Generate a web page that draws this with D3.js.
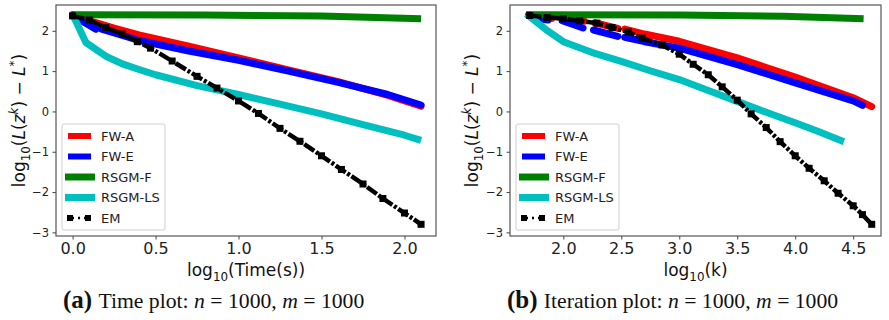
<!DOCTYPE html>
<html>
<head>
<meta charset="utf-8">
<script src="https://cdn.jsdelivr.net/npm/d3@7"></script>
<style>
body { margin: 0; background: #fff; }
svg { display: block; font-family: "DejaVu Sans", sans-serif; }
</style>
</head>
<body>
<div id="chart"></div>
<script>
// legend names, same order as the series are drawn
var seriesNames = ["FW-A", "FW-E", "RSGM-F", "RSGM-LS", "EM"];
var seriesColors = ["#ff0000", "#0000ff", "#008000", "#00bfbf", "#000000"];

var yTickValues = [-3, -2, -1, 0, 1, 2];
var timeTickValues = [0, 0.5, 1, 1.5, 2];
var iterTickValues = [2, 2.5, 3, 3.5, 4, 4.5];

// (a) time plot : [log10(time), log10(L(z^k) - L*)], null = gap
var timeFWA = [[0.0, 2.40], [0.06, 2.32], [0.12, 2.23], [0.25, 2.07], [0.4, 1.90], [0.7, 1.62],
	[1.0, 1.33], [1.3, 1.03], [1.6, 0.74], [1.9, 0.40], [2.1, 0.13]];
var timeFWE = [[0.0, 2.38], [0.14, 2.04], null, [0.17, 2.05], [0.4, 1.76], [0.7, 1.50],
	[1.0, 1.27], [1.3, 1.00], [1.6, 0.72], [1.9, 0.42], [2.1, 0.16]];
var timeRSGMF = [[0.0, 2.40], [0.8, 2.39], [1.5, 2.37], [2.1, 2.30]];
var timeRSGMLS = [[0.0, 2.41], [0.08, 1.71], [0.2, 1.37], [0.3, 1.18], [0.4, 1.04], [0.5, 0.91],
	[0.75, 0.64], [1.0, 0.42], [1.25, 0.18], [1.5, -0.06], [1.75, -0.33], [2.0, -0.59], [2.1, -0.72]];
var timeEM = [[0.0, 2.37], [0.1, 2.27], [0.2, 2.08], [0.3, 1.92], [0.39, 1.73], [0.47, 1.57],
	[0.6, 1.25], [0.75, 0.87], [0.87, 0.58], [1.0, 0.26], [1.12, -0.05], [1.25, -0.42],
	[1.37, -0.74], [1.5, -1.10], [1.62, -1.44], [1.75, -1.80], [1.87, -2.16], [2.0, -2.52], [2.1, -2.80]];

// (b) iteration plot : [log10(k), log10(L(z^k) - L*)]
var iterFWA = [[1.70, 2.40], [1.76, 2.36], null, [1.84, 2.34], [1.90, 2.31], null,
	[2.00, 2.32], [2.18, 2.24], null, [2.27, 2.20], [2.47, 2.06], null,
	[2.53, 2.04], [2.7, 1.92], [3.0, 1.74], [3.5, 1.33], [4.0, 0.85], [4.5, 0.34], [4.66, 0.12]];
var iterFWE = [[1.70, 2.38], [1.75, 2.33], null, [1.77, 2.30], [1.87, 2.27], null,
	[1.99, 2.25], [2.17, 2.07], null, [2.26, 2.02], [2.47, 1.86], null,
	[2.53, 1.84], [2.7, 1.73], [3.0, 1.57], [3.5, 1.16], [4.0, 0.71], [4.5, 0.26], [4.58, 0.15]];
var iterRSGMF = [[1.68, 2.40], [3.0, 2.39], [3.9, 2.36], [4.59, 2.30]];
var iterRSGMLS = [[1.68, 2.42], [1.85, 2.03], [2.0, 1.73], [2.25, 1.46], [2.5, 1.24], [2.75, 1.01],
	[3.0, 0.79], [3.25, 0.52], [3.5, 0.25], [3.75, -0.02], [4.0, -0.28], [4.2, -0.50], [4.42, -0.75]];
var iterEM = [[1.71, 2.38], [1.86, 2.33], [2.0, 2.30], [2.14, 2.25], [2.29, 2.19], [2.42, 2.08],
	[2.56, 1.97], [2.68, 1.82], [2.85, 1.65], [3.0, 1.42], [3.12, 1.17], [3.25, 0.91], [3.37, 0.61],
	[3.5, 0.28], [3.62, -0.06], [3.75, -0.40], [3.87, -0.75], [4.0, -1.10], [4.12, -1.41],
	[4.25, -1.72], [4.37, -2.03], [4.5, -2.34], [4.58, -2.56], [4.66, -2.80]];

var width = 889, height = 320;
var plotTop = 5, plotBottom = 236;

var panels = [
	{ id: "a", left: 56, right: 436, xDomain: [-0.1, 2.19], xTicks: timeTickValues,
	  xName: "(Time(s))", ylabX: 25, capX: 63, capTitle: "Time plot: ",
	  series: [timeFWA, timeFWE, timeRSGMF, timeRSGMLS, timeEM] },
	{ id: "b", left: 510, right: 881, xDomain: [1.54, 4.74], xTicks: iterTickValues,
	  xName: "(k)", ylabX: 478, capX: 507, capTitle: "Iteration plot: ",
	  series: [iterFWA, iterFWE, iterRSGMF, iterRSGMLS, iterEM] }
];

var svg = d3.select("#chart").append("svg")
	.attr("width", width)
	.attr("height", height);

// writes text made of pieces, some subscript / superscript / italic
function richText(sel, parts, size) {
	var shift = 0;
	parts.forEach(function(p) {
		var want = p.sub ? size * 0.3 : (p.sup ? -size * 0.42 : 0);
		var ts = sel.append("tspan")
			.attr("dy", want - shift)
			.attr("font-size", (p.sub || p.sup) ? size * 0.7 : size)
			.text(p.t);
		if (p.it) ts.attr("font-style", "italic");
		if (p.bold) ts.attr("font-weight", "bold");
		if (p.fs) ts.attr("font-size", p.fs);
		shift = want;
	});
}

var minus = function(d) { return d < 0 ? "\u2212" + Math.abs(d) : String(d); };

panels.forEach(function(p) {
	var x = d3.scaleLinear().domain(p.xDomain).range([p.left, p.right]);
	var y = d3.scaleLinear().domain([-3.09, 2.64]).range([plotBottom, plotTop]);
	var g = svg.append("g");

	g.append("clipPath").attr("id", "clip-" + p.id)
		.append("rect")
		.attr("x", p.left).attr("y", plotTop)
		.attr("width", p.right - p.left).attr("height", plotBottom - plotTop);

	var plot = g.append("g").attr("clip-path", "url(#clip-" + p.id + ")");

	var line = d3.line()
		.defined(function(d) { return d !== null; })
		.x(function(d) { return x(d[0]); })
		.y(function(d) { return y(d[1]); });

	p.series.forEach(function(data, i) {
		var path = plot.append("path")
			.datum(data)
			.attr("d", line)
			.attr("fill", "none")
			.attr("stroke", seriesColors[i]);
		if (i < 2) {
			path.attr("stroke-width", 7).attr("stroke-linecap", "round").attr("stroke-linejoin", "round");
		} else if (i < 4) {
			path.attr("stroke-width", 7).attr("stroke-linejoin", "round");
		} else {
			path.attr("stroke-width", 4.5).attr("stroke-dasharray", "12,2,3,2");
			plot.selectAll(".sq-" + p.id)
				.data(data.filter(function(d) { return d !== null; }))
				.enter().append("rect")
				.attr("class", "sq-" + p.id)
				.attr("x", function(d) { return x(d[0]) - 3.5; })
				.attr("y", function(d) { return y(d[1]) - 3.5; })
				.attr("width", 7).attr("height", 7)
				.attr("fill", "#000");
		}
	});

	// axes
	var xAxis = d3.axisBottom(x).tickValues(p.xTicks).tickFormat(d3.format(".1f"))
		.tickSize(3.5).tickPadding(3.5);
	var yAxis = d3.axisLeft(y).tickValues(yTickValues).tickFormat(minus)
		.tickSize(3.5).tickPadding(3.5);

	var gx = g.append("g").attr("transform", "translate(0," + plotBottom + ")").call(xAxis);
	gx.select(".domain").remove();
	gx.selectAll("text").attr("font-size", 16).attr("font-family", "DejaVu Sans").attr("fill", "#222");
	gx.selectAll("line").attr("stroke", "#444");

	var gy = g.append("g").attr("transform", "translate(" + p.left + ",0)").call(yAxis);
	gy.select(".domain").remove();
	gy.selectAll("text").attr("font-size", 11.5).attr("font-family", "DejaVu Sans").attr("fill", "#222");
	gy.selectAll("line").attr("stroke", "#444");

	g.append("rect")
		.attr("x", p.left).attr("y", plotTop)
		.attr("width", p.right - p.left).attr("height", plotBottom - plotTop)
		.attr("fill", "none").attr("stroke", "#555").attr("stroke-width", 1.2);

	// legend
	var lx = p.left + 6, ly = 124;
	var lg = g.append("g");
	lg.append("rect")
		.attr("x", lx).attr("y", ly).attr("width", 103).attr("height", 106)
		.attr("rx", 2).attr("fill", "#fff").attr("fill-opacity", 0.8)
		.attr("stroke", "#d0d0d0");
	seriesNames.forEach(function(name, i) {
		var ry = ly + 12 + i * 20.5;
		if (i < 4) {
			lg.append("line")
				.attr("x1", lx + (i < 2 ? 6 : 3)).attr("x2", lx + (i < 2 ? 29 : 33))
				.attr("y1", ry).attr("y2", ry)
				.attr("stroke", seriesColors[i]).attr("stroke-width", i < 2 ? 6 : 7);
		} else {
			lg.append("line")
				.attr("x1", lx + 6).attr("x2", lx + 28)
				.attr("y1", ry).attr("y2", ry)
				.attr("stroke", "#000").attr("stroke-width", 2.5)
				.attr("stroke-dasharray", "6,4,2,4");
			[lx + 8, lx + 26].forEach(function(cx) {
				lg.append("rect").attr("x", cx - 3).attr("y", ry - 3)
					.attr("width", 6).attr("height", 6).attr("fill", "#000");
			});
		}
		lg.append("text")
			.attr("x", lx + 39).attr("y", ry + 4.5)
			.attr("font-size", 13).attr("fill", "#222")
			.text(name);
	});

	// axis labels
	var xl = g.append("text")
		.attr("x", (p.left + p.right) / 2).attr("y", 276)
		.attr("text-anchor", "middle").attr("fill", "#111");
	richText(xl, [{ t: "log" }, { t: "10", sub: true }, { t: p.xName }], 17);

	var yl = g.append("text")
		.attr("transform", "translate(" + p.ylabX + "," + ((plotTop + plotBottom) / 2) + ") rotate(-90)")
		.attr("text-anchor", "middle").attr("fill", "#111");
	richText(yl, [{ t: "log" }, { t: "10", sub: true }, { t: "(" }, { t: "L", it: true }, { t: "(" },
		{ t: "z", it: true }, { t: "k", sup: true, it: true }, { t: ") \u2212 " }, { t: "L", it: true },
		{ t: "*", sup: true }, { t: ")" }], 17);

	// caption
	var cap = g.append("text")
		.attr("x", p.capX).attr("y", 308)
		.attr("font-family", "Liberation Serif").attr("fill", "#111");
	richText(cap, [{ t: "(" + p.id + ") ", bold: true, fs: 25 }, { t: p.capTitle }, { t: "n", it: true },
		{ t: " = 1000, " }, { t: "m", it: true }, { t: " = 1000" }], 21.7);
});
</script>
</body>
</html>
